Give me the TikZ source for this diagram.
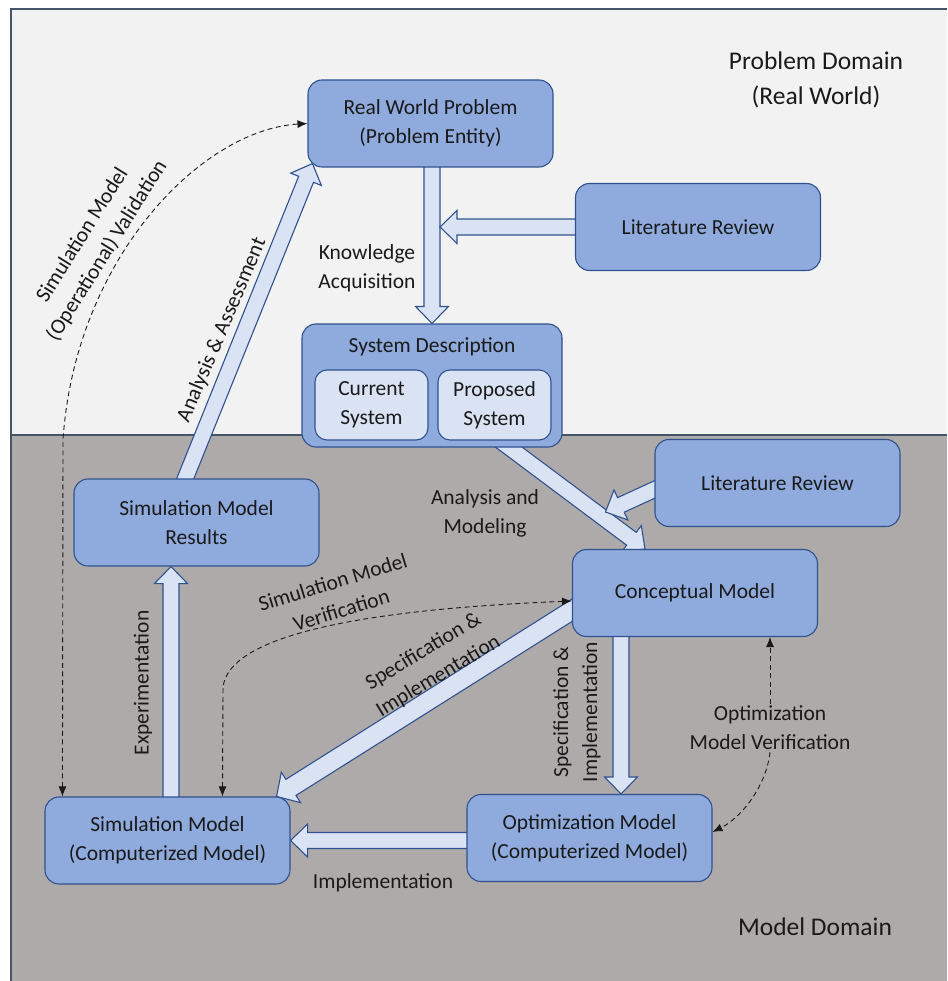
\documentclass[tikz,border=0pt]{standalone}
\usepackage{fontspec}
\setmainfont{Carlito}
\usetikzlibrary{arrows.meta,positioning,calc}
\definecolor{Edge}{HTML}{2F528F}
\definecolor{BoxBlue}{HTML}{8FAADC}
\definecolor{Pale}{HTML}{DAE3F3}
\definecolor{TopBg}{HTML}{F2F2F2}
\definecolor{LowBg}{HTML}{AEAAAA}
\definecolor{Rim}{HTML}{44546A}
\definecolor{Ink}{HTML}{1A1A1A}
\pgfdeclarelayer{bg}
\pgfdeclarelayer{mid}
\pgfsetlayers{bg,mid,main}
\newcommand\boxfont{\fontsize{21.5}{29}\selectfont}
\newcommand\domfont{\fontsize{25.5}{35}\selectfont}
\newcommand\fatarr[3][8]{%
  \coordinate (fa-s) at (#2);
  \coordinate (fa-e) at (#3);
  \coordinate (fa-h) at ($(fa-e)!17pt!(fa-s)$);
  \filldraw[fat] ($(fa-s)!#1pt!90:(fa-e)$) -- ($(fa-h)!#1pt!90:(fa-e)$)
    -- ($(fa-h)!#1pt+8.5pt!90:(fa-e)$) -- (fa-e)
    -- ($(fa-h)!#1pt+8.5pt!-90:(fa-e)$) -- ($(fa-h)!#1pt!-90:(fa-e)$)
    -- ($(fa-s)!#1pt!-90:(fa-e)$) -- cycle;}

\begin{document}
\begin{tikzpicture}[x=1pt,y=-1pt,node distance=5pt,
    box/.style={draw=Edge,fill=BoxBlue,rounded corners=14pt,line width=1.1pt,align=center,font=\boxfont,text=Ink,minimum width=245pt,minimum height=87pt,inner sep=0pt},
    sub/.style={draw=Edge,fill=Pale,rounded corners=12pt,line width=1.1pt,align=center,font=\boxfont,text=Ink,minimum width=113pt,minimum height=70pt,inner sep=0pt},
    lbl/.style={align=center,font=\boxfont,text=Ink,inner sep=2pt},
    dom/.style={align=center,font=\domfont,text=Ink},
    fat/.style={draw=Edge,fill=Pale,line width=1.1pt,line join=miter},
    rim/.style={draw=Rim,line width=1.2pt},
    vd/.style={draw=Ink,line width=0.9pt,dash pattern=on 5pt off 3.5pt,{Latex[length=10pt,width=8pt]}-{Latex[length=10pt,width=8pt]}},
    vd1/.style={draw=Ink,line width=0.9pt,dash pattern=on 5pt off 3.5pt,-{Latex[length=10pt,width=8pt]}}]
  \useasboundingbox (0,0) rectangle (947,981);
  \begin{pgfonlayer}{bg}
    \fill[TopBg] (11,9) rectangle (947,435);
    \fill[LowBg] (11,435) rectangle (947,981);
    \draw[rim] (947,9) -- (11,9) -- (11,981);
    \draw[rim] (11,435) -- (947,435);
  \end{pgfonlayer}

  \node[dom] (pdom) at (816,80) {Problem Domain\\(Real World)};
  \node[dom] (mdom) at (815,927) {Model Domain};

  \node[box] (rwp) at (430.5,123.5) {Real World Problem\\(Problem Entity)};
  \node[box] (lit1) at (698,227) {Literature Review};
  \node[box,minimum width=260pt,minimum height=123pt] (sysd) at (432,385.5) {};
  \node[lbl,below=12pt of sysd.north] (sysdt) {System Description};
  \node[sub] (cur) at (371.5,405) {Current\\System};
  \node[sub] (prop) at (494.5,405) {Proposed\\System};
  \node[box] (lit2) at (777.5,483) {Literature Review};
  \node[box] (smr) at (196.5,522.5) {Simulation Model\\Results};
  \node[box] (cm) at (695,593) {Conceptual Model};
  \node[box] (sm) at (167.5,840.5) {Simulation Model\\(Computerized Model)};
  \node[box] (om) at (589.5,838) {Optimization Model\\(Computerized Model)};

  \begin{pgfonlayer}{mid}
    \fatarr{rwp.center -| sysd.north}{sysd.north}
    \fatarr{lit1.center}{$(lit1.center -| sysd.north)+(8,0)$}
    \fatarr{$(sysd.south)+(58,-14.5)$}{$(cm.north)+(-50,0)$}
    \fatarr{$(lit2.west)+(24,-4.5)$}{$(lit2.west)+(-49,29)$}
    \fatarr[9.5]{$(cm.center)+(-75,-13)$}{$(sm.north east)+(-14,0)$}
    \fatarr{$(cm.center)+(-74,0)$}{$(om.north)+(31.5,0)$}
    \fatarr{om.center |- sm.east}{sm.east}
    \fatarr{$(sm.center)+(3.5,0)$}{$(smr.south)+(-25.5,0)$}
    \fatarr{$(smr.center)+(-29,0)$}{$(rwp.south west)+(5,-4)$}
  \end{pgfonlayer}

  \node[lbl] (ka) at (367,268) {Knowledge\\Acquisition};
  \node[lbl,rotate=67] (aa) at (222,330) {Analysis \& Assessment};
  \node[lbl,rotate=58] (val) at (95,243) {Simulation Model\\(Operational) Validation};
  \node[lbl] (am) at (485,513) {Analysis and\\Modeling};
  \node[lbl,rotate=17] (ver) at (337,596) {Simulation Model\\Verification};
  \node[lbl,rotate=31] (si1) at (431,664) {Specification \&\\Implementation};
  \node[lbl,rotate=90] (si2) at (577,712) {Specification \&\\Implementation};
  \node[lbl,rotate=90] (exp) at (143,683) {Experimentation};
  \node[lbl] (imp) at (383,883) {Implementation};
  \node[lbl] (optv) at (770,728) {Optimization\\Model Verification};

  \draw[vd] ([xshift=18pt]sm.north west) -- (63,440) .. controls (75,260) and (200,130) .. (rwp.west);
  \draw[vd] ([xshift=178pt]sm.north west) -- (223,690) .. controls (223,650) and (300,612) .. ([yshift=-8pt]cm.west);
  \draw[vd1] (optv.north) -- (optv.north |- cm.south);
  \draw[vd1] (optv.south) .. controls +(-4,35) and +(28,-14) .. ([yshift=6pt]om.east);
\end{tikzpicture}
\end{document}
